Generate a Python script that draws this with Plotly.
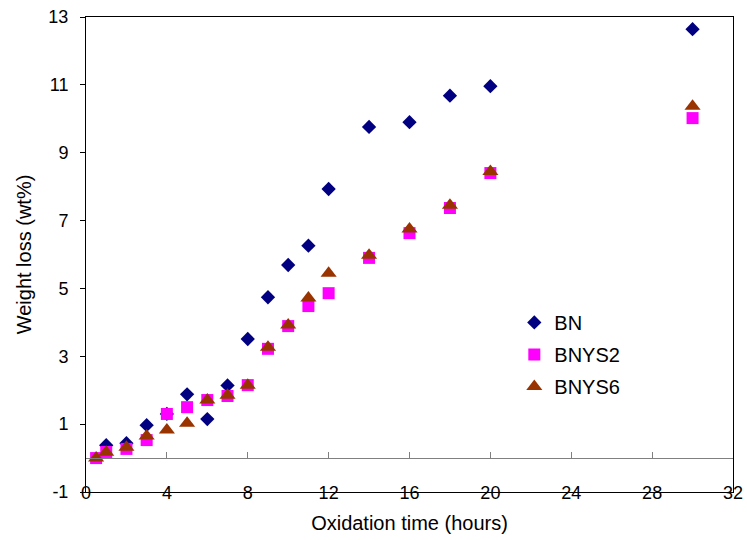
import plotly.graph_objects as go

# Data
bn_x = [1, 2, 3, 4, 5, 6, 7, 8, 9, 10, 11, 12, 14, 16, 18, 20, 30]
bn_y = [0.38, 0.44, 0.97, 1.3, 1.88, 1.15, 2.14, 3.51, 4.74, 5.69, 6.26, 7.93, 9.76, 9.9, 10.68, 10.96, 12.64]

bnys2_x = [0.5, 1, 2, 3, 4, 5, 6, 7, 8, 9, 10, 11, 12, 14, 16, 18, 20, 30]
bnys2_y = [0.0, 0.18, 0.27, 0.53, 1.3, 1.5, 1.71, 1.83, 2.15, 3.22, 3.89, 4.48, 4.86, 5.9, 6.63, 7.37, 8.4, 10.02]

bnys6_x = [0.5, 1, 2, 3, 4, 5, 6, 7, 8, 9, 10, 11, 12, 14, 16, 18, 20, 30]
bnys6_y = [0.0, 0.17, 0.32, 0.65, 0.83, 1.03, 1.71, 1.85, 2.15, 3.27, 3.92, 4.72, 5.45, 5.98, 6.75, 7.45, 8.45, 10.37]

x_ticks = [0, 4, 8, 12, 16, 20, 24, 28, 32]
y_ticks = [-1, 1, 3, 5, 7, 9, 11, 13]
y_tick_text = ["-1", "1", "3", "5", "7", "9", "11", "13"]

FONT = "Liberation Sans, Arial, sans-serif"

fig = go.Figure()
fig.add_trace(go.Scatter(x=bn_x, y=bn_y, mode="markers", name="BN", legendgroup="a",
                         marker=dict(symbol="diamond", size=11, color="#000080")))
fig.add_trace(go.Scatter(x=bnys2_x, y=bnys2_y, mode="markers", name="BNYS2", legendgroup="b",
                         marker=dict(symbol="square", size=12, color="#FF00FF")))
fig.add_trace(go.Scatter(x=bnys6_x, y=bnys6_y, mode="markers", name="BNYS6", legendgroup="c",
                         marker=dict(symbol="triangle-up", size=14, color="#993300")))
# invisible helper trace so the secondary (y = 0) x-axis is drawn
fig.add_trace(go.Scatter(x=[0], y=[None], xaxis="x2", mode="markers", showlegend=False,
                         hoverinfo="skip", marker=dict(opacity=0)))

fig.update_layout(
    width=747, height=540,
    margin=dict(l=86, r=14, t=17, b=48),
    paper_bgcolor="white", plot_bgcolor="white",
    font=dict(family=FONT, size=18, color="black"),
    showlegend=True,
    legend=dict(x=0.662, y=0.398, xanchor="left", yanchor="top",
                font=dict(size=20), tracegroupgap=3, bgcolor="rgba(0,0,0,0)"),
    xaxis=dict(range=[0, 32], tickvals=x_ticks, ticks="", showline=True, mirror=True,
               linecolor="black", linewidth=1, showgrid=False, zeroline=False,
               ticklabelstandoff=-16, tickfont=dict(size=18), automargin=False,
               title=dict(text="Oxidation time (hours)", font=dict(size=20), standoff=14)),
    xaxis2=dict(range=[0, 32], tickvals=x_ticks, overlaying="x", anchor="free",
                position=1/14, side="bottom", ticks="inside", ticklen=6, tickcolor="#808080",
                showline=True, linecolor="#808080", linewidth=1, showticklabels=False,
                showgrid=False, zeroline=False, automargin=False),
    yaxis=dict(range=[-1, 13], tickvals=y_ticks, ticktext=y_tick_text, ticks="outside",
               ticklen=5, tickcolor="black", tickfont=dict(size=18), ticklabelstandoff=8,
               showline=True, mirror=True, linecolor="black", linewidth=1,
               showgrid=False, zeroline=False, automargin=False,
               title=dict(text="Weight loss (wt%)", font=dict(size=20), standoff=11)),
)

fig.write_html("out.html")
